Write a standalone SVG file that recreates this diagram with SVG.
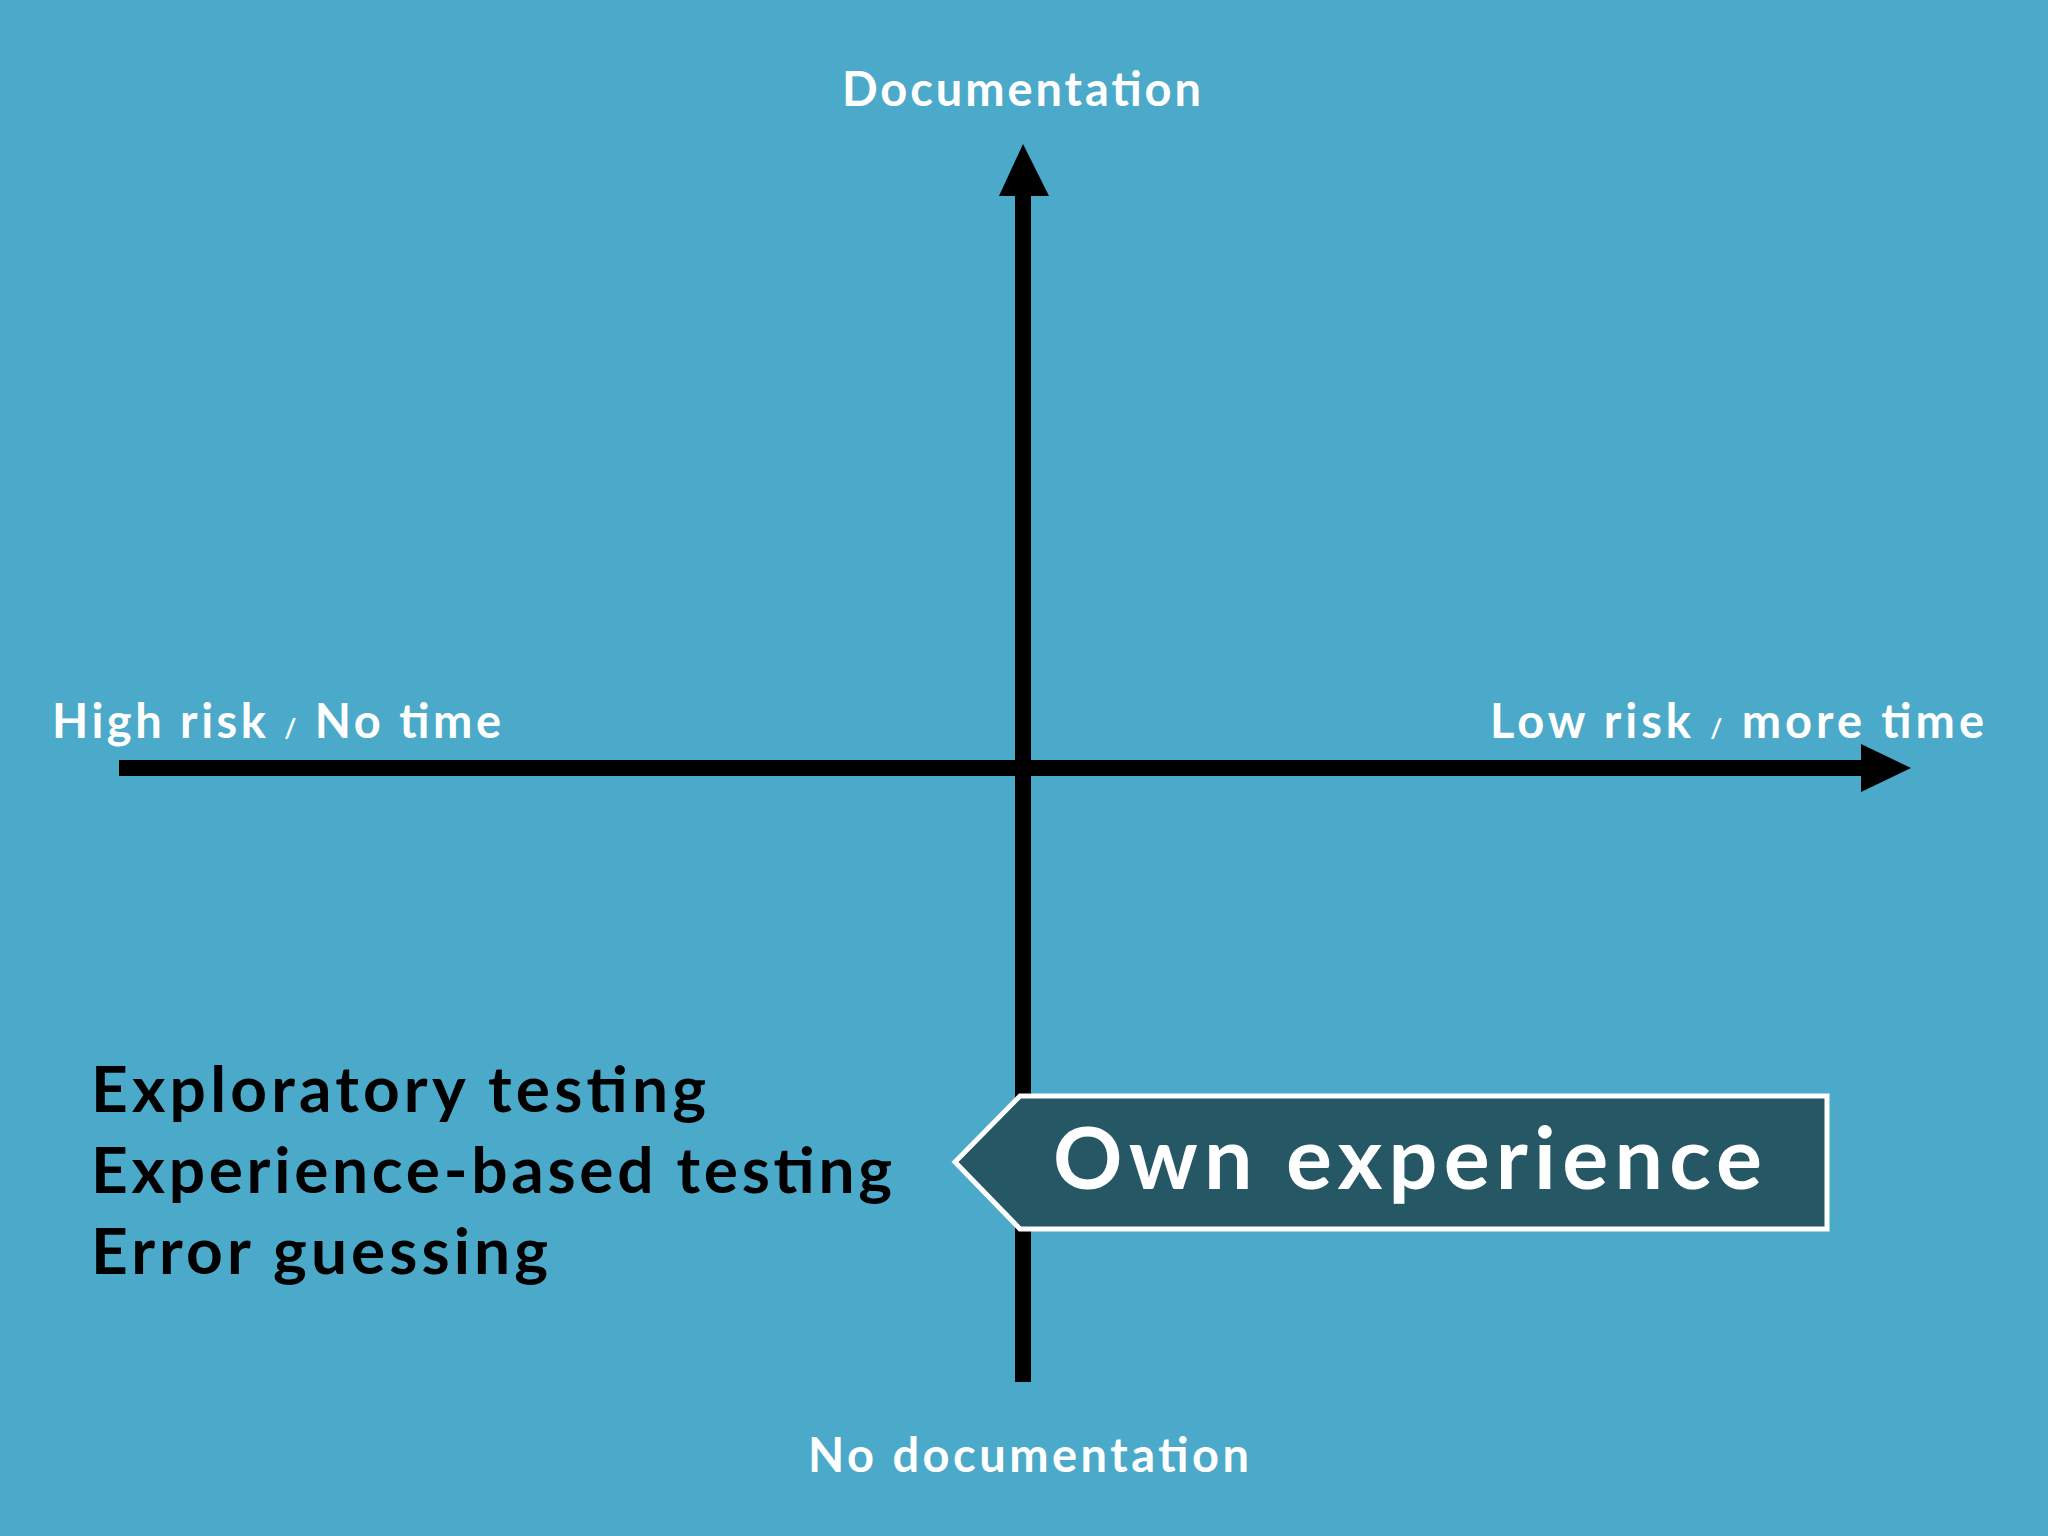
<svg xmlns="http://www.w3.org/2000/svg" width="2048" height="1536" viewBox="0 0 2048 1536">
<style>
.w{fill:#fff;font-family:Lato,"Liberation Sans",sans-serif;font-weight:bold}
.b{fill:#000;font-family:Lato,"Liberation Sans",sans-serif;font-weight:bold;font-size:64px}
</style>
<rect width="2048" height="1536" fill="#4ba9c9"/>
<g id="connectors">
<line x1="1023" y1="190" x2="1023" y2="1382" stroke="#000" stroke-width="16"/>
<polygon points="1023,144 999,196 1049,196" fill="#000"/>
<line x1="119" y1="768" x2="1865" y2="768" stroke="#000" stroke-width="16"/>
<polygon points="1911,768 1861,744 1861,792" fill="#000"/>
</g>
<g id="top"><text class="w" x="842" y="106" font-size="47" textLength="359" lengthAdjust="spacing">Documentation</text></g>
<g id="bottom"><text class="w" x="808" y="1472" font-size="47" textLength="441" lengthAdjust="spacing">No documentation</text></g>
<g id="left"><text class="w" x="52" y="738" font-size="47" textLength="449" lengthAdjust="spacing">High risk <tspan font-size="26">/</tspan> No time</text></g>
<g id="right"><text class="w" x="1490" y="738" font-size="47" textLength="494" lengthAdjust="spacing">Low risk <tspan font-size="26">/</tspan> more time</text></g>
<g id="list">
<text class="b" x="91" y="1112" textLength="615" lengthAdjust="spacing">Exploratory testing</text>
<text class="b" x="91" y="1193" textLength="801" lengthAdjust="spacing">Experience-based testing</text>
<text class="b" x="91" y="1274" textLength="457" lengthAdjust="spacing">Error guessing</text>
</g>
<g id="own">
<polygon points="955,1162 1020,1096 1827,1096 1827,1229 1020,1229" fill="#255764" stroke="#fff" stroke-width="5"/>
<text class="w" x="1053" y="1189" font-size="86" textLength="709" lengthAdjust="spacing">Own experience</text>
</g>
</svg>
